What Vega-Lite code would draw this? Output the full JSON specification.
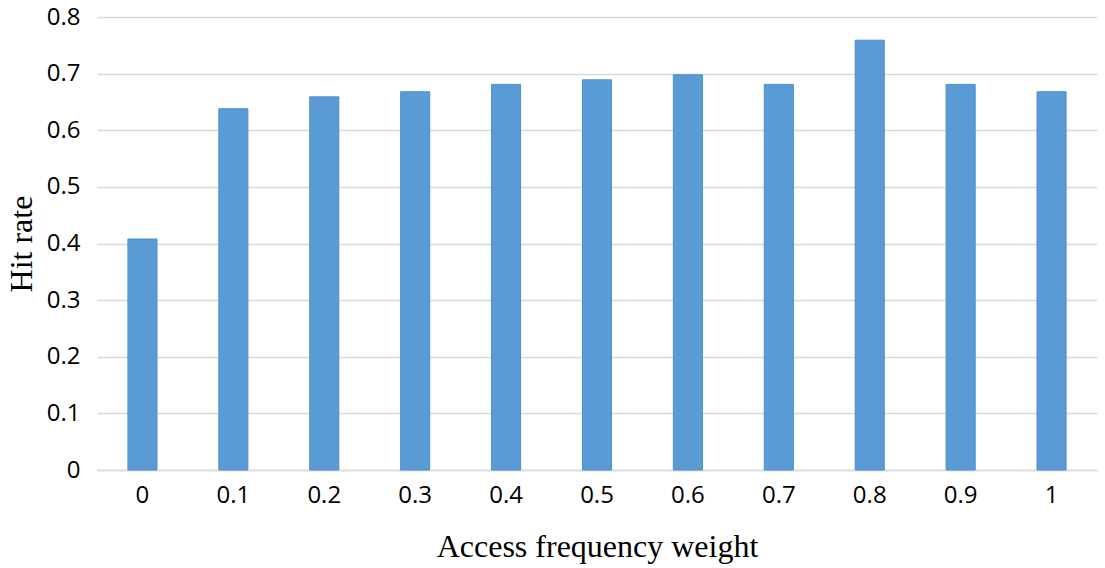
{
  "$schema": "https://vega.github.io/schema/vega-lite/v6.json",
  "autosize": "none",
  "width": 1000,
  "height": 453,
  "padding": {"left": 97, "top": 17, "right": 8, "bottom": 98},
  "background": "white",
  "data": {
    "values": [
      {"weight": "0", "hit": 0.408},
      {"weight": "0.1", "hit": 0.638},
      {"weight": "0.2", "hit": 0.659},
      {"weight": "0.3", "hit": 0.668},
      {"weight": "0.4", "hit": 0.681},
      {"weight": "0.5", "hit": 0.689},
      {"weight": "0.6", "hit": 0.698},
      {"weight": "0.7", "hit": 0.681},
      {"weight": "0.8", "hit": 0.759},
      {"weight": "0.9", "hit": 0.681},
      {"weight": "1", "hit": 0.668}
    ]
  },
  "mark": {"type": "bar", "color": "#5B9BD5", "stroke": "#4F8FCB", "strokeWidth": 1},
  "encoding": {
    "x": {
      "field": "weight",
      "type": "ordinal",
      "sort": null,
      "scale": {"paddingInner": 0.68, "paddingOuter": 0.34},
      "axis": {
        "title": "Access frequency weight",
        "titleFont": "Liberation Serif",
        "titleFontSize": 32,
        "titleFontWeight": "normal",
        "titleColor": "#000",
        "titlePadding": 24,
        "labelFont": "Open Sans",
        "labelFontSize": 24,
        "labelColor": "#000",
        "labelAngle": 0,
        "labelPadding": 13,
        "ticks": false,
        "domain": true,
        "domainColor": "#d9d9d9",
        "domainWidth": 1.5
      }
    },
    "y": {
      "field": "hit",
      "type": "quantitative",
      "scale": {"domain": [0, 0.8], "nice": false},
      "axis": {
        "title": "Hit rate",
        "titleFont": "Liberation Serif",
        "titleFontSize": 32,
        "titleFontWeight": "normal",
        "titleColor": "#000",
        "titlePadding": 8,
        "values": [0, 0.1, 0.2, 0.3, 0.4, 0.5, 0.6, 0.7, 0.8],
        "labelExpr": "datum.value == 0 ? '0' : format(datum.value, '.1f')",
        "labelFont": "Open Sans",
        "labelFontSize": 24,
        "labelColor": "#000",
        "labelPadding": 17,
        "ticks": false,
        "domain": false,
        "grid": true,
        "gridColor": "#d9d9d9",
        "gridWidth": 1.5
      }
    }
  },
  "config": {"view": {"stroke": null}}
}
